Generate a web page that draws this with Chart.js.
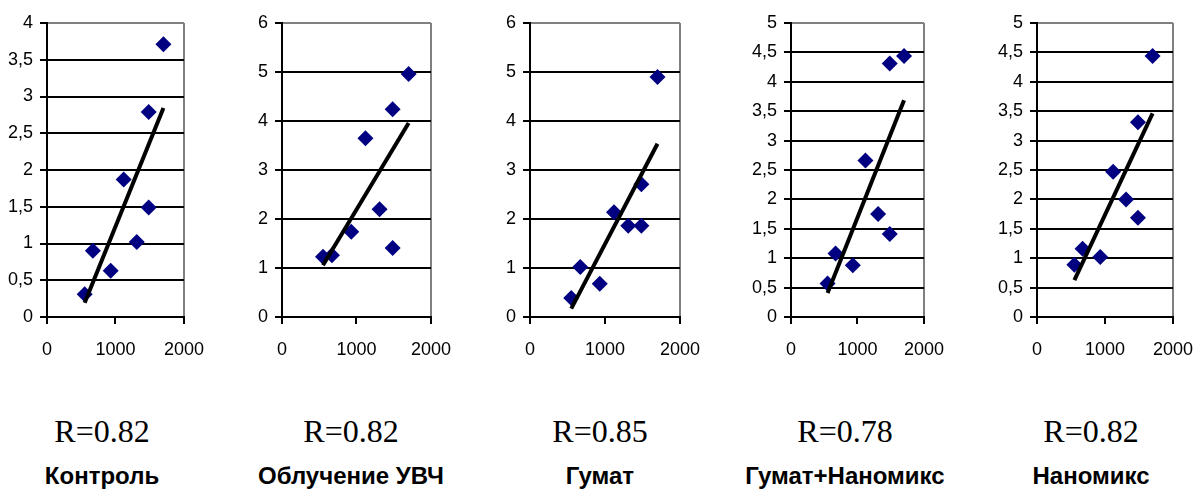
<!DOCTYPE html>
<html>
<head>
<meta charset="utf-8">
<script src="https://cdn.jsdelivr.net/npm/chart.js@4"></script>
<style>
  html, body { margin: 0; padding: 0; background: #fff; width: 1201px; height: 496px; overflow: hidden; }
  .panel { position: absolute; top: 0; height: 370px; }
  .r { position: absolute; top: 415px; width: 200px; margin-left: -100px; text-align: center;
       font: 32px/32px 'Liberation Serif', 'Times New Roman', serif; color: #000; }
  .name { position: absolute; top: 464px; width: 240px; margin-left: -120px; text-align: center;
          font: bold 24px/24px 'Liberation Sans Narrow', 'Arial Narrow', 'Liberation Sans', sans-serif; color: #000; }
</style>
</head>
<body>
<div id="wrap"></div>
<script>
// x values (same for every panel)
const xValues = [550, 670, 930, 1120, 1310, 1485, 1485, 1700];

// y values per panel
const control   = [0.31, 0.90, 0.63, 1.87, 1.02, 1.49, 2.79, 3.71];
const uhf       = [1.23, 1.26, 1.74, 3.65, 2.20, 1.41, 4.24, 4.96];
const humate    = [0.39, 1.02, 0.68, 2.14, 1.86, 1.86, 2.71, 4.90];
const humateNano = [0.57, 1.08, 0.88, 2.66, 1.75, 1.41, 4.31, 4.44];
const nanomix   = [0.89, 1.16, 1.02, 2.47, 2.00, 1.69, 3.31, 4.44];

const names = ['Контроль', 'Облучение УВЧ', 'Гумат', 'Гумат+Наномикс', 'Наномикс'];
const rLabels = ['R=0.82', 'R=0.82', 'R=0.85', 'R=0.78', 'R=0.82'];
const yMax = [4, 6, 6, 5, 5];
const yStep = [0.5, 1, 1, 0.5, 0.5];
const xTicks = [0, 1000, 2000];

const series = [control, uhf, humate, humateNano, nanomix];

// layout of each plot area in page pixels
const plotLeft = [47, 282, 530, 791, 1037];
const plotRight = [194, 441, 690, 934, 1183];
const textCenter = [102, 351, 600, 845, 1091];

const AXIS_W = 47, PAD_R = 25, H = 370, PLOT_TOP = 23, PLOT_BOTTOM = 317;
const tickFont = { family: "'Liberation Sans Narrow', 'Arial Narrow', 'Liberation Sans', sans-serif", size: 18 };

function fitLine(xs, ys) {
  const n = xs.length;
  const mx = xs.reduce((a, b) => a + b, 0) / n;
  const my = ys.reduce((a, b) => a + b, 0) / n;
  let sxy = 0, sxx = 0;
  for (let i = 0; i < n; i++) {
    sxy += (xs[i] - mx) * (ys[i] - my);
    sxx += (xs[i] - mx) * (xs[i] - mx);
  }
  const b = sxy / sxx, a = my - b * mx;
  const x0 = Math.min(...xs), x1 = Math.max(...xs);
  return [{ x: x0, y: a + b * x0 }, { x: x1, y: a + b * x1 }];
}

const wrap = document.getElementById('wrap');

series.forEach((ys, i) => {
  const left = plotLeft[i] - AXIS_W;
  const width = plotRight[i] - plotLeft[i] + AXIS_W + PAD_R;
  const box = document.createElement('div');
  box.className = 'panel';
  box.style.left = left + 'px';
  box.style.width = width + 'px';
  const cv = document.createElement('canvas');
  box.appendChild(cv);
  wrap.appendChild(box);

  const r = document.createElement('div');
  r.className = 'r';
  r.style.left = textCenter[i] + 'px';
  r.textContent = rLabels[i];
  document.body.appendChild(r);

  const nm = document.createElement('div');
  nm.className = 'name';
  nm.style.left = textCenter[i] + 'px';
  nm.textContent = names[i];
  document.body.appendChild(nm);

  const pts = xValues.map((x, k) => ({ x: x, y: ys[k] }));

  new Chart(cv, {
    type: 'scatter',
    data: {
      datasets: [
        {
          type: 'line',
          data: fitLine(xValues, ys),
          borderColor: '#000',
          borderWidth: 4,
          pointRadius: 0,
          fill: false
        },
        {
          data: pts,
          pointStyle: 'rectRot',
          pointRadius: 8,
          backgroundColor: '#000080',
          borderColor: '#000080',
          borderWidth: 0
        }
      ]
    },
    options: {
      responsive: true,
      maintainAspectRatio: false,
      animation: false,
      layout: { padding: { top: PLOT_TOP, right: PAD_R, left: 0, bottom: 0 } },
      plugins: { legend: { display: false }, tooltip: { enabled: false } },
      scales: {
        x: {
          type: 'linear',
          min: 0, max: 2000,
          afterBuildTicks: s => { s.ticks = xTicks.map(v => ({ value: v })); },
          afterFit: s => { s.height = H - PLOT_BOTTOM; },
          border: { color: '#000', width: 2 },
          grid: {
            lineWidth: 2,
            color: c => (c.tick && c.tick.value === 2000) ? '#808080' : 'rgba(0,0,0,0)',
            tickColor: '#000',
            tickLength: 7
          },
          ticks: { color: '#000', font: tickFont, padding: 15, maxRotation: 0, callback: v => String(v) }
        },
        y: {
          min: 0, max: yMax[i],
          afterFit: s => { s.width = AXIS_W; },
          border: { color: '#000', width: 2 },
          grid: {
            lineWidth: 2,
            color: c => (c.tick && c.tick.value === yMax[i]) ? '#808080' : '#000',
            tickColor: '#000',
            tickLength: 7
          },
          ticks: {
            stepSize: yStep[i],
            color: '#000',
            font: tickFont,
            padding: 7,
            callback: v => String(v).replace('.', ',')
          }
        }
      }
    }
  });
});
</script>
</body>
</html>
